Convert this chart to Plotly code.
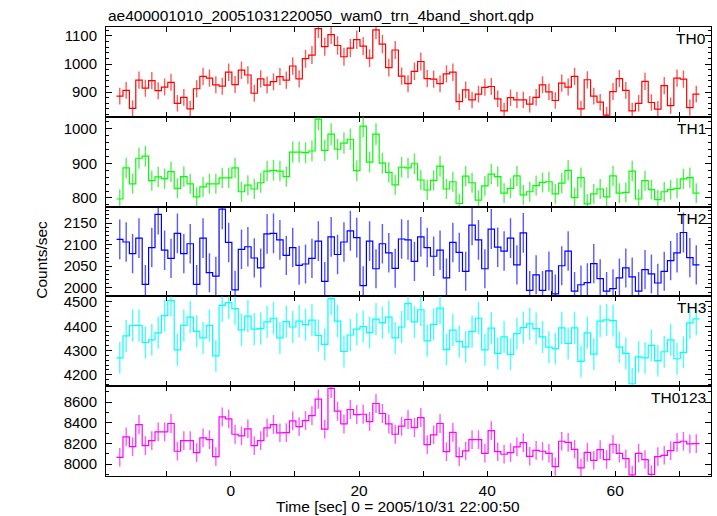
import numpy as np
import plotly.graph_objects as go
from plotly.subplots import make_subplots

# ---- data ----
time_start = -17.35
bin_width = 1.0
n_bins = 91

th0 = [886, 906, 842, 943, 914, 941, 905, 918, 935, 860,
       881, 840, 912, 956, 950, 926, 921, 971, 927, 978,
       961, 896, 947, 925, 937, 955, 943, 993, 947, 1019,
       1032, 1126, 1062, 1105, 1066, 1026, 1057, 1087, 1064, 1021,
       1122, 1071, 987, 1050, 957, 930, 974, 1009, 948, 946,
       930, 965, 971, 866, 908, 872, 893, 917, 920, 876,
       833, 880, 872, 872, 857, 881, 926, 901, 870, 932,
       918, 956, 840, 944, 886, 864, 818, 902, 948, 906,
       833, 860, 938, 863, 839, 923, 852, 950, 946, 845,
       893]
th1 = [797, 887, 841, 915, 921, 850, 861, 856, 876, 828,
       862, 841, 803, 832, 841, 841, 858, 858, 887, 818,
       837, 826, 844, 878, 880, 878, 862, 933, 933, 931,
       936, 1028, 938, 985, 941, 959, 970, 879, 1008, 904,
       985, 901, 874, 838, 889, 887, 899, 852, 823, 851,
       892, 826, 847, 784, 863, 844, 794, 835, 869, 862,
       814, 828, 864, 809, 818, 836, 845, 847, 812, 843,
       880, 801, 859, 783, 812, 826, 803, 864, 814, 816,
       878, 797, 850, 824, 795, 818, 824, 828, 855, 859,
       814]
th2 = [2112, 2106, 2079, 2115, 2008, 2093, 2170, 2087, 2068, 2126,
       2079, 2102, 2008, 2115, 2035, 2027, 2182, 2105, 1995, 2089,
       2095, 2069, 2046, 2125, 2126, 2111, 2075, 2093, 2052, 2055,
       2068, 2108, 2015, 2118, 2077, 2106, 2132, 2116, 2005, 2108,
       2044, 2102, 2081, 2045, 2113, 2111, 2061, 2118, 2093, 2073,
       2087, 2023, 2105, 2082, 2038, 2145, 2111, 2044, 2136, 2094,
       2085, 2115, 2053, 2127, 1994, 2030, 1994, 2039, 1986, 2051,
       2085, 1992, 2007, 2012, 2056, 2021, 1992, 1998, 2023, 2046,
       2025, 1992, 2042, 2032, 2011, 2038, 2063, 2081, 2128, 2070,
       2053]
th3 = [4270, 4360, 4403, 4403, 4333, 4344, 4373, 4444, 4507, 4303,
       4403, 4438, 4379, 4352, 4403, 4278, 4486, 4497, 4473, 4385,
       4442, 4388, 4390, 4418, 4433, 4352, 4419, 4397, 4421, 4407,
       4425, 4362, 4325, 4514, 4421, 4296, 4364, 4388, 4399, 4374,
       4429, 4415, 4438, 4352, 4397, 4493, 4418, 4468, 4340, 4408,
       4475, 4304, 4384, 4337, 4315, 4378, 4433, 4303, 4392, 4288,
       4356, 4284, 4370, 4394, 4410, 4390, 4356, 4314, 4308, 4393,
       4329, 4393, 4255, 4373, 4285, 4421, 4426, 4423, 4314, 4288,
       4163, 4274, 4270, 4321, 4258, 4295, 4344, 4266, 4292, 4414,
       4430]
th0123 = [8065, 8263, 8169, 8383, 8179, 8227, 8312, 8312, 8393, 8124,
          8227, 8227, 8111, 8253, 8237, 8072, 8457, 8438, 8289, 8273,
          8341, 8179, 8227, 8351, 8383, 8302, 8305, 8419, 8363, 8422,
          8470, 8629, 8338, 8733, 8513, 8389, 8529, 8480, 8483, 8412,
          8587, 8490, 8389, 8289, 8367, 8432, 8354, 8451, 8189, 8282,
          8393, 8120, 8308, 8072, 8127, 8237, 8237, 8104, 8325, 8120,
          8095, 8111, 8166, 8208, 8075, 8133, 8124, 8104, 7975, 8221,
          8211, 8143, 7962, 8114, 8036, 8140, 8043, 8192, 8104, 8052,
          7894, 8104, 8043, 7900, 8072, 8085, 8130, 8211, 8221, 8195,
          8198]

band_names = ["TH0", "TH1", "TH2", "TH3", "TH0123"]
band_values = [th0, th1, th2, th3, th0123]
band_colors = ["#ff0000", "#00ff00", "#0000ff", "#00ffff", "#ff00ff"]
band_err_colors = ["rgba(255,0,0,0.65)", "rgba(0,230,0,0.65)", "rgba(0,0,255,0.65)",
                   "rgba(0,255,255,0.7)", "rgba(255,0,255,0.65)"]
y_ranges = [[812, 1132], [775, 1035], [1980, 2188], [4153, 4523], [7884, 8755]]
y_dticks = [100, 100, 50, 100, 200]
y_minor = [20, 20, 10, 20, 100]

x_range = [-19.5, 74.95]
x_tickvals = [-10, 0, 10, 20, 30, 40, 50, 60, 70]
x_ticktext = ["", "0", "", "20", "", "40", "", "60", ""]

title_text = "ae400001010_20051031220050_wam0_trn_4band_short.qdp"
xtitle_text = "Time [sec] 0 = 2005/10/31 22:00:50"
ytitle_text = "Counts/sec"

FONT = "Liberation Sans, Arial, sans-serif"

times = time_start + bin_width * np.arange(n_bins)
edges = np.append(times - bin_width / 2, times[-1] + bin_width / 2)

fig = make_subplots(rows=5, cols=1, shared_xaxes=True, vertical_spacing=0)

for k in range(5):
    vals = np.array(band_values[k], dtype=float)
    errs = np.sqrt(vals)
    # error bars
    fig.add_trace(go.Scatter(
        x=times, y=vals, mode="markers",
        marker=dict(size=1, color="rgba(0,0,0,0)"),
        error_y=dict(type="data", array=errs, visible=True, width=0,
                     thickness=1.4, color=band_err_colors[k]),
        showlegend=False, hoverinfo="skip"), row=k + 1, col=1)
    # step histogram line
    fig.add_trace(go.Scatter(
        x=edges, y=np.append(vals, vals[-1]), mode="lines",
        line=dict(color=band_colors[k], width=1.2, shape="hv"),
        showlegend=False), row=k + 1, col=1)

    fig.update_yaxes(range=y_ranges[k], dtick=y_dticks[k], tick0=0,
                     ticks="inside", ticklen=6, tickwidth=1, tickcolor="black",
                     minor=dict(dtick=y_minor[k], ticks="inside", ticklen=3,
                                tickcolor="black", tickwidth=1),
                     showline=True, linecolor="black", linewidth=1, mirror="ticks",
                     showgrid=False, zeroline=False, ticklabelstandoff=5,
                     tickfont=dict(family=FONT, size=15, color="black"),
                     row=k + 1, col=1)
    fig.update_xaxes(range=x_range, tickvals=x_tickvals, ticktext=x_ticktext,
                     ticks="inside", ticklen=5, tickwidth=1, tickcolor="black",
                     showline=True, linecolor="black", linewidth=1, mirror="ticks",
                     showgrid=False, zeroline=False,
                     tickfont=dict(family=FONT, size=15.5, color="black"),
                     row=k + 1, col=1)
    yref = "y domain" if k == 0 else f"y{k + 1} domain"
    fig.add_annotation(text=band_names[k], xref="paper", yref=yref,
                       x=0.995, y=1, xanchor="right", yanchor="top", yshift=-1,
                       showarrow=False,
                       font=dict(family=FONT, size=15.5, color="black"))

fig.update_xaxes(showticklabels=False)
fig.update_xaxes(showticklabels=True, row=5, col=1)

fig.add_annotation(text=title_text, xref="paper", yref="paper", x=0, y=1,
                   xanchor="left", yanchor="bottom", yshift=1, showarrow=False,
                   font=dict(family=FONT, size=15.5, color="black"))
fig.add_annotation(text=xtitle_text, xref="paper", yref="paper", x=0.483, y=0,
                   xanchor="center", yanchor="top", yshift=-20, showarrow=False,
                   font=dict(family=FONT, size=15.5, color="black"))
fig.add_annotation(text=ytitle_text, xref="paper", yref="paper", x=-0.108, y=0.481,
                   xanchor="center", yanchor="middle", textangle=-90, showarrow=False,
                   font=dict(family=FONT, size=15.5, color="black"))

fig.update_layout(width=717, height=516,
                  margin=dict(l=106, r=6, t=27, b=40, pad=0),
                  paper_bgcolor="white", plot_bgcolor="white",
                  showlegend=False)

fig.write_html("out.html", config={"displayModeBar": False},
               post_script="document.body.style.margin='0';document.body.style.overflow='hidden';")
